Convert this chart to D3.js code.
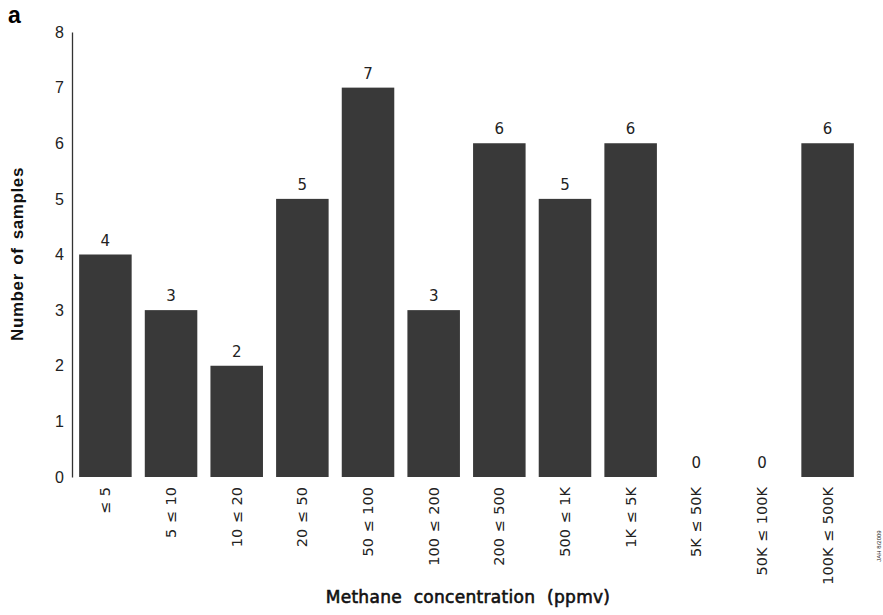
<!DOCTYPE html>
<html>
<head>
<meta charset="utf-8">
<script src="https://cdn.jsdelivr.net/npm/d3@7"></script>
<style>
  html, body { margin: 0; padding: 0; background: #fff; }
  svg { display: block; }
</style>
</head>
<body>
<svg id="chart" width="883" height="615"></svg>
<script>
// Methane concentration bins (ppmv) and sample counts
const categories = ["≤ 5", "5 ≤ 10", "10 ≤ 20", "20 ≤ 50", "50 ≤ 100", "100 ≤ 200",
  "200 ≤ 500", "500 ≤ 1K", "1K ≤ 5K", "5K ≤ 50K", "50K ≤ 100K", "100K ≤ 500K"];
const counts = [4, 3, 2, 5, 7, 3, 6, 5, 6, 0, 0, 6];
const yTicks = [0, 1, 2, 3, 4, 5, 6, 7, 8];

const svg = d3.select("#chart");

const x = d3.scaleBand()
  .domain(categories)
  .range([66, 867])
  .paddingInner(0.2)
  .paddingOuter(0.2);

const y = d3.scaleLinear()
  .domain([0, 8])
  .range([477, 32]);

// y axis: plain line with numbers, no tick marks
const yAxis = d3.axisLeft(y)
  .tickValues(yTicks)
  .tickSize(0)
  .tickPadding(8);

const gy = svg.append("g")
  .attr("transform", "translate(72,0)")
  .call(yAxis);
gy.select(".domain").attr("stroke", "#333").attr("stroke-width", 1.3);
gy.selectAll("text")
  .attr("font-family", "Liberation Sans, Arial, sans-serif")
  .attr("font-size", 16)
  .attr("fill", "#222");

// bars
svg.append("g")
  .selectAll("rect")
  .data(counts)
  .join("rect")
  .attr("x", (d, i) => x(categories[i]))
  .attr("y", d => y(d))
  .attr("width", x.bandwidth())
  .attr("height", d => y(0) - y(d))
  .attr("fill", "#393939");

// value labels above bars
svg.append("g")
  .selectAll("text")
  .data(counts)
  .join("text")
  .attr("x", (d, i) => x(categories[i]) + x.bandwidth() / 2)
  .attr("y", d => y(d) - 9)
  .attr("text-anchor", "middle")
  .attr("font-family", "DejaVu Sans, sans-serif")
  .attr("font-size", 15)
  .attr("fill", "#222")
  .text(d => d);

// x axis: rotated category labels, no line
const xAxis = d3.axisBottom(x).tickSize(0).tickPadding(0);
const gx = svg.append("g")
  .attr("transform", "translate(0,477)")
  .call(xAxis);
gx.select(".domain").remove();
gx.selectAll("text")
  .attr("font-family", "DejaVu Sans, sans-serif")
  .attr("font-size", 14.5)
  .attr("fill", "#222")
  .attr("text-anchor", "end")
  .attr("dy", "0.35em")
  .attr("transform", "translate(0,10) rotate(-90)")
  .attr("x", 0)
  .attr("y", 0)
  .style("word-spacing", "1px");

// axis titles
svg.append("text")
  .attr("x", 468)
  .attr("y", 603)
  .attr("text-anchor", "middle")
  .attr("font-family", "DejaVu Sans, sans-serif")
  .attr("font-size", 17)
  .attr("fill", "#111")
  .attr("stroke", "#111")
  .attr("stroke-width", 0.6)
  .style("letter-spacing", "0.3px")
  .style("word-spacing", "6px")
  .text("Methane concentration (ppmv)");

svg.append("text")
  .attr("transform", "translate(23,254) rotate(-90)")
  .attr("text-anchor", "middle")
  .attr("font-family", "Liberation Sans, Arial, sans-serif")
  .attr("font-size", 17)
  .attr("font-weight", "bold")
  .attr("fill", "#111")
  .style("letter-spacing", "0.6px")
  .style("word-spacing", "3px")
  .text("Number of samples");

// panel letter
svg.append("text")
  .attr("x", 8)
  .attr("y", 23)
  .attr("font-family", "Liberation Sans, Arial, sans-serif")
  .attr("font-size", 23)
  .attr("font-weight", "bold")
  .attr("fill", "#000")
  .text("a");

// small credit stamp
svg.append("text")
  .attr("transform", "translate(881,546) rotate(-90)")
  .attr("text-anchor", "middle")
  .attr("font-family", "Liberation Sans, Arial, sans-serif")
  .attr("font-size", 6)
  .attr("fill", "#222")
  .text("JAH 8/2009");
</script>
</body>
</html>
